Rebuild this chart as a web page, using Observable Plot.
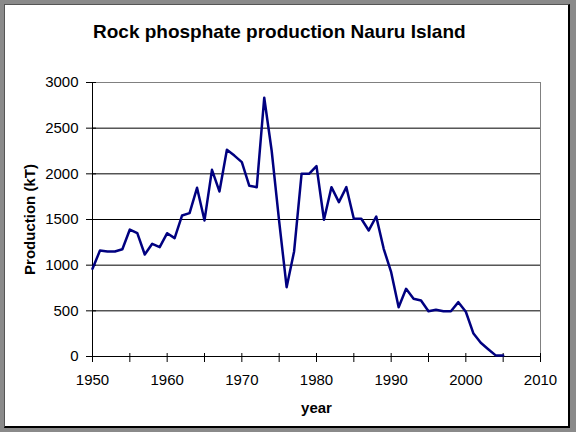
<!DOCTYPE html>
<html>
<head>
<meta charset="utf-8">
<script src="https://cdn.jsdelivr.net/npm/d3@7"></script>
<script src="https://cdn.jsdelivr.net/npm/@observablehq/plot@0.6"></script>
<style>
  html, body { margin: 0; padding: 0; background: #8a8a8a; }
  #wrap { position: relative; width: 576px; height: 432px; background: #8a8a8a; overflow: hidden; }
  #inner { position: absolute; left: 4px; top: 4px; width: 563px; height: 421px; background: #fff;
           border-left: 1px solid #555; border-top: 1px solid #555; border-right: 2px solid #000; border-bottom: 2px solid #000; }
  #title { position: absolute; left: 93px; top: 22px; font: bold 19px/19px "Liberation Sans", Arial, sans-serif; color: #000; white-space: nowrap; }
  #chart { position: absolute; left: 0; top: 0; }
  #chart g[aria-label="x-axis label"] text, #chart g[aria-label="y-axis label"] text { font-weight: bold; }
</style>
</head>
<body>
<div id="wrap">
  <div id="inner"></div>
  <div id="chart"></div>
  <div id="title">Rock phosphate production Nauru Island</div>
</div>
<script>
const years = [1950,1951,1952,1953,1954,1955,1956,1957,1958,1959,
               1960,1961,1962,1963,1964,1965,1966,1967,1968,1969,
               1970,1971,1972,1973,1974,1975,1976,1977,1978,1979,
               1980,1981,1982,1983,1984,1985,1986,1987,1988,1989,
               1990,1991,1992,1993,1994,1995,1996,1997,1998,1999,
               2000,2001,2002,2003,2004,2005];
const production = [960,1160,1150,1150,1175,1390,1350,1117,1234,1197,
                    1350,1296,1544,1570,1847,1490,2044,1807,2263,2200,
                    2128,1869,1854,2833,2250,1480,759,1150,2000,2000,
                    2085,1497,1854,1690,1854,1508,1508,1380,1533,1179,
                    923,540,741,632,613,496,511,496,496,595,
                    490,255,150,80,12,12];
const xTickYears = [1950,1955,1960,1965,1970,1975,1980,1985,1990,1995,2000,2005,2010];
const xLabelYears = [1950,1960,1970,1980,1990,2000,2010];
const yTicks = [0,500,1000,1500,2000,2500,3000];
const gridVals = [500,1000,1500,2000,2500];

const data = years.map((y, i) => ({year: y, value: production[i]}));

const chart = Plot.plot({
  width: 576,
  height: 432,
  marginLeft: 92,
  marginRight: 36,
  marginTop: 82,
  marginBottom: 76,
  style: {fontFamily: "'Liberation Sans', Arial, sans-serif", fontSize: "15px", color: "#000", background: "transparent", overflow: "visible"},
  x: {domain: [1950, 2010]},
  y: {domain: [0, 3000]},
  marks: [
    Plot.frame({stroke: "#808080"}),
    Plot.gridY(gridVals, {stroke: "#000", strokeOpacity: 1}),
    Plot.axisX({ticks: xTickYears, tickSize: 9, dy: -3, tickFormat: () => "", label: null, stroke: "#000"}),
    Plot.axisX({ticks: xLabelYears, tickSize: 0, tickPadding: 18, tickFormat: d => String(d),
                label: "year", labelAnchor: "center", labelArrow: "none", labelOffset: 56}),
    Plot.axisY({ticks: yTicks, tickSize: 10, dx: 4, tickFormat: () => "", label: null, stroke: "#000"}),
    Plot.axisY({ticks: yTicks, tickSize: 0, tickPadding: 14, tickFormat: d => String(d),
                label: "Production (kT)", labelAnchor: "center", labelArrow: "none", labelOffset: 68}),
    Plot.ruleX([1950], {stroke: "#000"}),
    Plot.ruleY([0], {stroke: "#000"}),
    Plot.line(data, {x: "year", y: "value", stroke: "#000080", strokeWidth: 2.5, strokeLinejoin: "round"})
  ]
});
document.getElementById("chart").appendChild(chart);
</script>
</body>
</html>
